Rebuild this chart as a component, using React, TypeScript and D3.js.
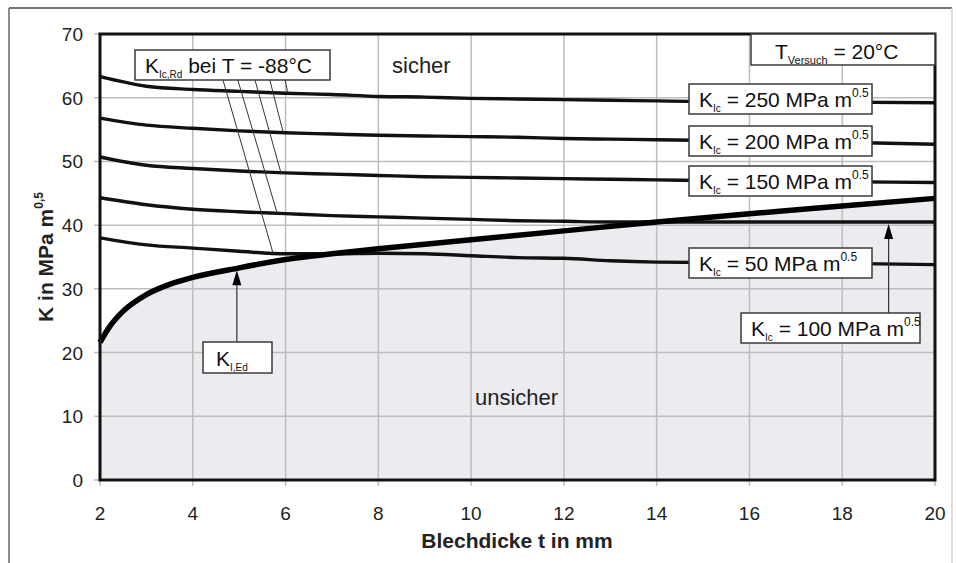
import React from 'react';
import * as d3 from 'd3';

// ---- data ----
const xTicks = [2, 4, 6, 8, 10, 12, 14, 16, 18, 20];
const yTicks = [0, 10, 20, 30, 40, 50, 60, 70];

const tKic = [2, 3, 4, 5, 6, 7, 8, 9, 10, 11, 12, 13, 14, 16, 18, 20];
const kic250 = [63.3, 61.8, 61.3, 61.0, 60.7, 60.5, 60.2, 60.1, 59.9, 59.8, 59.7, 59.6, 59.5, 59.3, 59.3, 59.2];
const kic200 = [56.8, 55.7, 55.2, 54.8, 54.5, 54.3, 54.1, 54.0, 53.9, 53.8, 53.6, 53.5, 53.4, 53.2, 53.0, 52.7];
const kic150 = [50.7, 49.4, 48.9, 48.5, 48.2, 48.0, 47.8, 47.6, 47.5, 47.4, 47.3, 47.2, 47.1, 46.9, 46.8, 46.7];
const kic100 = [44.3, 43.2, 42.5, 42.1, 41.8, 41.5, 41.3, 41.1, 40.9, 40.7, 40.6, 40.5, 40.5, 40.5, 40.5, 40.5];
const kic50 = [38.0, 36.9, 36.4, 35.9, 35.5, 35.5, 35.6, 35.5, 35.2, 34.9, 34.8, 34.4, 34.2, 34.1, 34.0, 33.8];

const tEd = [2, 2.2, 2.5, 3, 3.5, 4, 5, 6, 7, 8, 10, 12, 14, 16, 18, 20];
const kEd = [21.6, 24.0, 26.5, 29.1, 30.7, 31.8, 33.3, 34.6, 35.5, 36.3, 37.7, 39.1, 40.5, 41.8, 43.0, 44.2];

const kicSeries = [kic250, kic200, kic150, kic100, kic50];

// leader lines from "K_Ic,Rd" box (start t at box bottom, end t on curve)
const leaderStartT = [5.99, 5.66, 5.34, 4.97, 4.65];
const leaderEndT = [6.05, 5.95, 5.9, 5.82, 5.73];
const leaderStartK = 62.8;

// arrows
const arrowEdT = 4.95;
const arrowEdFromK = 21.7;
const arrow100T = 19.0;
const arrow100FromK = 26.2;

const FONT = "'Liberation Sans', Arial, sans-serif";

export default function App() {
  const W = 956, H = 563;
  const x = d3.scaleLinear().domain([2, 20]).range([100, 935]);
  const y = d3.scaleLinear().domain([0, 70]).range([480, 34]);

  const line = d3.line<[number, number]>()
    .x(d => x(d[0])).y(d => y(d[1]))
    .curve(d3.curveMonotoneX);
  const area = d3.area<[number, number]>()
    .x(d => x(d[0])).y0(y(0)).y1(d => y(d[1]))
    .curve(d3.curveMonotoneX);

  const edPts: [number, number][] = tEd.map((t, i) => [t, kEd[i]]);
  const interp = (ts: number[], vs: number[]) => d3.scaleLinear().domain(ts).range(vs);
  const edAt = interp(tEd, kEd);
  const c100At = interp(tKic, kic100);

  const arrowHead = (px: number, py: number) =>
    `M${px},${py} L${px - 4.5},${py + 15} L${px + 4.5},${py + 15} Z`;

  const kicBox = (bx: number, by: number, bw: number, val: string, key: string) => (
    <g key={key}>
      <rect x={bx} y={by} width={bw} height={30} fill="#fff" stroke="#3a3a3a" strokeWidth={1.5} />
      <text x={bx + 10} y={by + 23} fontSize={21} fontFamily={FONT} fill="#111">
        <tspan>K</tspan>
        <tspan fontSize={10} dy={5}>Ic</tspan>
        <tspan dy={-5}>{` = ${val} MPa m`}</tspan>
        <tspan fontSize={12} dy={-10}>0.5</tspan>
      </text>
    </g>
  );

  return (
    <svg width={W} height={H} style={{ position: 'absolute', left: 0, top: 0, background: '#fff' }}>
      {/* outer frame */}
      <line x1={9} y1={8} x2={952} y2={8} stroke="#444" strokeWidth={1.5} />
      <line x1={9} y1={8} x2={9} y2={H} stroke="#666" strokeWidth={1.5} />
      <line x1={952} y1={8} x2={952} y2={H} stroke="#d0d0d0" strokeWidth={1.5} />

      {/* fill under K_I,Ed */}
      <path d={area(edPts) || ''} fill="#ecebf0" />

      {/* grid */}
      {xTicks.map(t => (
        <line key={'gx' + t} x1={x(t)} x2={x(t)} y1={y(70)} y2={y(0) + 6} stroke="#bdbdbd" strokeWidth={1.5} />
      ))}
      {yTicks.map(v => (
        <line key={'gy' + v} x1={x(2) - 6} x2={x(20)} y1={y(v)} y2={y(v)} stroke="#bdbdbd" strokeWidth={1.5} />
      ))}

      {/* K_Ic curves */}
      {kicSeries.map((vals, i) => (
        <path key={'c' + i} d={line(tKic.map((t, j) => [t, vals[j]] as [number, number])) || ''}
          fill="none" stroke="#111" strokeWidth={3.4} />
      ))}
      {/* K_I,Ed */}
      <path d={line(edPts) || ''} fill="none" stroke="#000" strokeWidth={5.5} />

      {/* plot frame */}
      <rect x={x(2)} y={y(70)} width={x(20) - x(2)} height={y(0) - y(70)} fill="none" stroke="#111" strokeWidth={3} />

      {/* tick labels */}
      {xTicks.map(t => (
        <text key={'tx' + t} x={x(t)} y={520} textAnchor="middle" fontSize={19} fontFamily={FONT} fill="#222">{t}</text>
      ))}
      {yTicks.map(v => (
        <text key={'ty' + v} x={83} y={y(v) + 7} textAnchor="end" fontSize={19} fontFamily={FONT} fill="#222">{v}</text>
      ))}

      {/* axis titles */}
      <text x={517} y={548} textAnchor="middle" fontSize={21} fontWeight="bold" fontFamily={FONT} fill="#222">Blechdicke t in mm</text>
      <text transform={`translate(53,${(y(0) + y(70)) / 2}) rotate(-90)`} textAnchor="middle" fontSize={21} fontWeight="bold" fontFamily={FONT} fill="#222">
        <tspan>K in MPa m</tspan>
        <tspan fontSize={12} dy={-10}>0,5</tspan>
      </text>

      {/* region labels */}
      <text x={392} y={73} fontSize={22} fontFamily={FONT} fill="#222">sicher</text>
      <text x={475} y={405} fontSize={22} fontFamily={FONT} fill="#222">unsicher</text>

      {/* leader lines */}
      {leaderStartT.map((t0, i) => {
        const t1 = leaderEndT[i];
        const vals = kicSeries[i];
        const v1 = interp(tKic, vals)(t1);
        return <line key={'ld' + i} x1={x(t0)} y1={y(leaderStartK)} x2={x(t1)} y2={y(v1)} stroke="#333" strokeWidth={1} />;
      })}

      {/* arrows */}
      <line x1={x(arrowEdT)} y1={y(arrowEdFromK)} x2={x(arrowEdT)} y2={y(edAt(arrowEdT)) + 10} stroke="#333" strokeWidth={1.2} />
      <path d={arrowHead(x(arrowEdT), y(edAt(arrowEdT)) + 2)} fill="#000" />
      <line x1={x(arrow100T)} y1={y(arrow100FromK)} x2={x(arrow100T)} y2={y(c100At(arrow100T)) + 10} stroke="#333" strokeWidth={1.2} />
      <path d={arrowHead(x(arrow100T), y(c100At(arrow100T)) + 2)} fill="#000" />

      {/* K_Ic,Rd box */}
      <rect x={135} y={50} width={195} height={30} fill="#fff" stroke="#3a3a3a" strokeWidth={1.5} />
      <text x={145} y={73} fontSize={21} fontFamily={FONT} fill="#111">
        <tspan>K</tspan>
        <tspan fontSize={10} dy={5}>Ic,Rd</tspan>
        <tspan dy={-5}> bei T = -88°C</tspan>
      </text>

      {/* T_Versuch box */}
      <rect x={751} y={34} width={184} height={31} fill="#fff" stroke="#3a3a3a" strokeWidth={1.5} />
      <text x={775} y={59} fontSize={21} fontFamily={FONT} fill="#111">
        <tspan>T</tspan>
        <tspan fontSize={11} dy={5}>Versuch</tspan>
        <tspan dy={-5}> = 20°C</tspan>
      </text>

      {/* K_Ic value boxes */}
      {kicBox(689, 84, 183, '250', 'b250')}
      {kicBox(689, 126, 183, '200', 'b200')}
      {kicBox(689, 166, 183, '150', 'b150')}
      {kicBox(689, 248, 183, '50', 'b50')}
      {kicBox(741, 313, 179, '100', 'b100')}

      {/* K_I,Ed box */}
      <rect x={203} y={342} width={69} height={31} fill="#fff" stroke="#3a3a3a" strokeWidth={1.5} />
      <text x={216} y={366} fontSize={21} fontFamily={FONT} fill="#111">
        <tspan>K</tspan>
        <tspan fontSize={10} dy={5}>I,Ed</tspan>
      </text>
    </svg>
  );
}
